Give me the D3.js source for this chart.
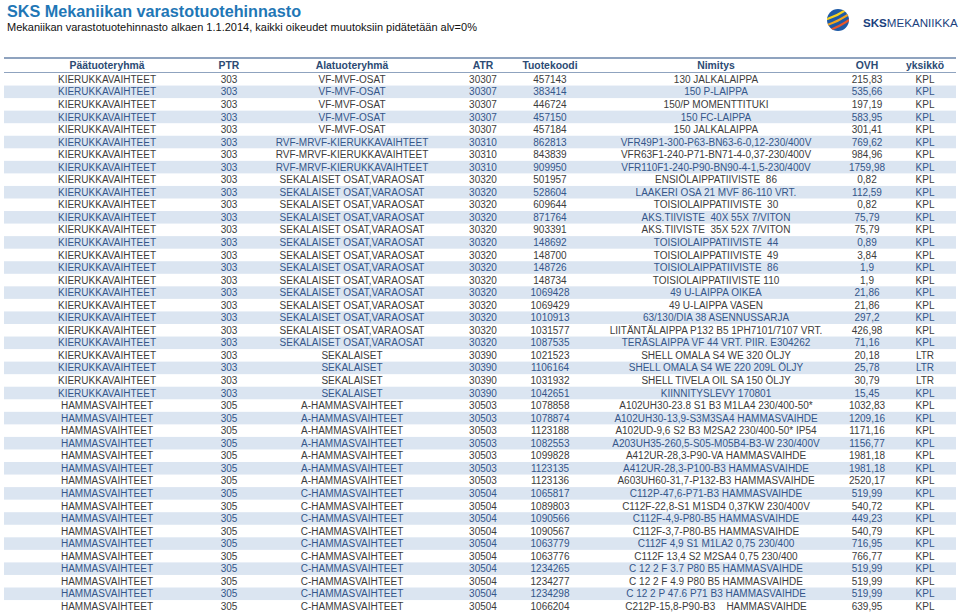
<!DOCTYPE html>
<html>
<head>
<meta charset="utf-8">
<script src="https://cdn.jsdelivr.net/npm/d3@7"></script>
<style>
body { margin: 0; background: #fff; }
text { font-family: "Liberation Sans", Arial, sans-serif; white-space: pre; }
</style>
</head>
<body>
<div id="figure"></div>
<script>
var w = 960;
var h = 614;

// table data, one array per column
var headers = ["Päätuoteryhmä", "PTR", "Alatuoteryhmä", "ATR", "Tuotekoodi", "Nimitys", "OVH", "yksikkö"];

var groups = [
	"KIERUKKAVAIHTEET","KIERUKKAVAIHTEET","KIERUKKAVAIHTEET","KIERUKKAVAIHTEET","KIERUKKAVAIHTEET",
	"KIERUKKAVAIHTEET","KIERUKKAVAIHTEET","KIERUKKAVAIHTEET","KIERUKKAVAIHTEET","KIERUKKAVAIHTEET",
	"KIERUKKAVAIHTEET","KIERUKKAVAIHTEET","KIERUKKAVAIHTEET","KIERUKKAVAIHTEET","KIERUKKAVAIHTEET",
	"KIERUKKAVAIHTEET","KIERUKKAVAIHTEET","KIERUKKAVAIHTEET","KIERUKKAVAIHTEET","KIERUKKAVAIHTEET",
	"KIERUKKAVAIHTEET","KIERUKKAVAIHTEET","KIERUKKAVAIHTEET","KIERUKKAVAIHTEET","KIERUKKAVAIHTEET",
	"KIERUKKAVAIHTEET","HAMMASVAIHTEET","HAMMASVAIHTEET","HAMMASVAIHTEET","HAMMASVAIHTEET",
	"HAMMASVAIHTEET","HAMMASVAIHTEET","HAMMASVAIHTEET","HAMMASVAIHTEET","HAMMASVAIHTEET",
	"HAMMASVAIHTEET","HAMMASVAIHTEET","HAMMASVAIHTEET","HAMMASVAIHTEET","HAMMASVAIHTEET",
	"HAMMASVAIHTEET","HAMMASVAIHTEET","HAMMASVAIHTEET"
];

var ptr = [
	303,303,303,303,303,303,303,303,303,303,303,303,303,303,303,303,303,303,303,303,303,303,303,303,303,303,
	305,305,305,305,305,305,305,305,305,305,305,305,305,305,305,305,305
];

var subgroups = [
	"VF-MVF-OSAT","VF-MVF-OSAT","VF-MVF-OSAT","VF-MVF-OSAT","VF-MVF-OSAT",
	"RVF-MRVF-KIERUKKAVAIHTEET","RVF-MRVF-KIERUKKAVAIHTEET","RVF-MRVF-KIERUKKAVAIHTEET",
	"SEKALAISET OSAT,VARAOSAT","SEKALAISET OSAT,VARAOSAT","SEKALAISET OSAT,VARAOSAT","SEKALAISET OSAT,VARAOSAT",
	"SEKALAISET OSAT,VARAOSAT","SEKALAISET OSAT,VARAOSAT","SEKALAISET OSAT,VARAOSAT","SEKALAISET OSAT,VARAOSAT",
	"SEKALAISET OSAT,VARAOSAT","SEKALAISET OSAT,VARAOSAT","SEKALAISET OSAT,VARAOSAT","SEKALAISET OSAT,VARAOSAT",
	"SEKALAISET OSAT,VARAOSAT","SEKALAISET OSAT,VARAOSAT",
	"SEKALAISET","SEKALAISET","SEKALAISET","SEKALAISET",
	"A-HAMMASVAIHTEET","A-HAMMASVAIHTEET","A-HAMMASVAIHTEET","A-HAMMASVAIHTEET","A-HAMMASVAIHTEET",
	"A-HAMMASVAIHTEET","A-HAMMASVAIHTEET",
	"C-HAMMASVAIHTEET","C-HAMMASVAIHTEET","C-HAMMASVAIHTEET","C-HAMMASVAIHTEET","C-HAMMASVAIHTEET",
	"C-HAMMASVAIHTEET","C-HAMMASVAIHTEET","C-HAMMASVAIHTEET","C-HAMMASVAIHTEET","C-HAMMASVAIHTEET"
];

var atr = [
	30307,30307,30307,30307,30307,30310,30310,30310,
	30320,30320,30320,30320,30320,30320,30320,30320,30320,30320,30320,30320,30320,30320,
	30390,30390,30390,30390,
	30503,30503,30503,30503,30503,30503,30503,
	30504,30504,30504,30504,30504,30504,30504,30504,30504,30504
];

var codes = [
	457143,383414,446724,457150,457184,862813,843839,909950,501957,528604,609644,871764,903391,
	148692,148700,148726,148734,1069428,1069429,1010913,1031577,1087535,1021523,1106164,1031932,
	1042651,1078858,1078874,1123188,1082553,1099828,1123135,1123136,1065817,1089803,1090566,
	1090567,1063779,1063776,1234265,1234277,1234298,1066204
];

var names = [
	"130 JALKALAIPPA",
	"150 P-LAIPPA",
	"150/P MOMENTTITUKI",
	"150 FC-LAIPPA",
	"150 JALKALAIPPA",
	"VFR49P1-300-P63-BN63-6-0,12-230/400V",
	"VFR63F1-240-P71-BN71-4-0,37-230/400V",
	"VFR110F1-240-P90-BN90-4-1,5-230/400V",
	"ENSIÖLAIPPATIIVISTE  86",
	"LAAKERI OSA 21 MVF 86-110 VRT.",
	"TOISIOLAIPPATIIVISTE  30",
	"AKS.TIIVISTE  40X 55X 7/VITON",
	"AKS.TIIVISTE  35X 52X 7/VITON",
	"TOISIOLAIPPATIIVISTE  44",
	"TOISIOLAIPPATIIVISTE  49",
	"TOISIOLAIPPATIIVISTE  86",
	"TOISIOLAIPPATIIVISTE 110",
	"49 U-LAIPPA OIKEA",
	"49 U-LAIPPA VASEN",
	"63/130/DIA 38 ASENNUSSARJA",
	"LIITÄNTÄLAIPPA P132 B5 1PH7101/7107 VRT.",
	"TERÄSLAIPPA VF 44 VRT. PIIR. E304262",
	"SHELL OMALA S4 WE 320 ÖLJY",
	"SHELL OMALA S4 WE 220 209L ÖLJY",
	"SHELL TIVELA OIL SA 150 ÖLJY",
	"KIINNITYSLEVY 170801",
	"A102UH30-23.8 S1 B3 M1LA4 230/400-50*",
	"A102UH30-13,9-S3M3SA4 HAMMASVAIHDE",
	"A102UD-9,6 S2 B3 M2SA2 230/400-50* IP54",
	"A203UH35-260,5-S05-M05B4-B3-W 230/400V",
	"A412UR-28,3-P90-VA HAMMASVAIHDE",
	"A412UR-28,3-P100-B3 HAMMASVAIHDE",
	"A603UH60-31,7-P132-B3 HAMMASVAIHDE",
	"C112P-47,6-P71-B3 HAMMASVAIHDE",
	"C112F-22,8-S1 M1SD4 0,37KW 230/400V",
	"C112F-4,9-P80-B5 HAMMASVAIHDE",
	"C112F-3,7-P80-B5 HAMMASVAIHDE",
	"C112F 4,9 S1 M1LA2 0,75 230/400",
	"C112F 13,4 S2 M2SA4 0,75 230/400",
	"C 12 2 F 3.7 P80 B5 HAMMASVAIHDE",
	"C 12 2 F 4.9 P80 B5 HAMMASVAIHDE",
	"C 12 2 P 47.6 P71 B3 HAMMASVAIHDE",
	"C212P-15,8-P90-B3    HAMMASVAIHDE"
];

var prices = [
	215.83,535.66,197.19,583.95,301.41,769.62,984.96,1759.98,0.82,112.59,0.82,75.79,75.79,
	0.89,3.84,1.9,1.9,21.86,21.86,297.2,426.98,71.16,20.18,25.78,30.79,15.45,1032.83,1209.16,
	1171.16,1156.77,1981.18,1981.18,2520.17,519.99,540.72,449.23,540.79,716.95,766.77,519.99,
	519.99,519.99,639.95
];

var units = [
	"KPL","KPL","KPL","KPL","KPL","KPL","KPL","KPL","KPL","KPL","KPL","KPL","KPL","KPL","KPL",
	"KPL","KPL","KPL","KPL","KPL","KPL","KPL","LTR","LTR","LTR","KPL","KPL","KPL","KPL","KPL",
	"KPL","KPL","KPL","KPL","KPL","KPL","KPL","KPL","KPL","KPL","KPL","KPL","KPL"
];

var rows = codes.map(function(d, i){
	return [groups[i], ptr[i], subgroups[i], atr[i], codes[i], names[i],
		String(prices[i]).replace('.', ','), units[i]];
});

var svg = d3.select('#figure')
	.append('svg')
	.attr('width', w)
	.attr('height', h);

//Title
svg.append('text')
	.attr('x', 7)
	.attr('y', 17)
	.attr('font-size', 16.2)
	.attr('font-weight', 'bold')
	.attr('fill', '#1f77b6')
	.text('SKS Mekaniikan varastotuotehinnasto');

svg.append('text')
	.attr('x', 7)
	.attr('y', 30.5)
	.attr('font-size', 11)
	.attr('fill', '#111')
	.text('Mekaniikan varastotuotehinnasto alkaen 1.1.2014, kaikki oikeudet muutoksiin pidätetään alv=0%');

//Logo
var logo = svg.append('g').attr('transform', 'translate(838,20)');
logo.append('clipPath').attr('id', 'logoClip')
	.append('circle').attr('r', 11);
logo.append('circle').attr('r', 11).attr('fill', '#1e5aa6');
var swoosh = logo.append('g').attr('clip-path', 'url(#logoClip)');
[[-6, '#f6d21e'], [0, '#f3a51d'], [6, '#e8562a']].forEach(function(s){
	swoosh.append('path')
		.attr('d', 'M-14,' + (s[0] + 6) + ' Q0,' + (s[0] + 2) + ' 14,' + (s[0] - 8))
		.attr('fill', 'none')
		.attr('stroke', s[1])
		.attr('stroke-width', 2.2);
});
var logoText = svg.append('text')
	.attr('x', 863)
	.attr('y', 27)
	.attr('font-size', 11.6)
	.attr('fill', '#1b3f7d');
logoText.append('tspan').attr('font-weight', 'bold').text('SKS');
logoText.append('tspan').text('MEKANIIKKA');

//Scales
var xScale = d3.scaleOrdinal()
	.domain(d3.range(headers.length))
	.range([107, 229, 352, 483, 550, 716, 867, 925]);

var yScale = d3.scaleBand()
	.domain(d3.range(rows.length))
	.range([73, 612.6]);

//Header
svg.append('line')
	.attr('x1', 4).attr('x2', 956)
	.attr('y1', 58).attr('y2', 58)
	.attr('stroke', '#8fa3bf')
	.attr('stroke-width', 2);

svg.append('line')
	.attr('x1', 4).attr('x2', 956)
	.attr('y1', 72.5).attr('y2', 72.5)
	.attr('stroke', '#8fa3bf')
	.attr('stroke-width', 1);

svg.append('g')
	.selectAll('text')
	.data(headers)
	.enter()
	.append('text')
	.attr('x', function(d, i){ return xScale(i); })
	.attr('y', 69)
	.attr('text-anchor', 'middle')
	.attr('font-size', 10.4)
	.attr('font-weight', 'bold')
	.attr('fill', '#2c4b74')
	.text(function(d){ return d; });

//Rows
var rowG = svg.append('g')
	.selectAll('g')
	.data(rows)
	.enter()
	.append('g')
	.attr('transform', function(d, i){ return 'translate(0,' + yScale(i) + ')'; });

rowG.filter(function(d, i){ return i % 2 === 1; })
	.append('rect')
	.attr('x', 4)
	.attr('width', 952)
	.attr('height', yScale.bandwidth())
	.attr('fill', '#dbe5f1');

rowG.selectAll('text')
	.data(function(d, i){
		return d.map(function(v){ return {v: v, stripe: i % 2 === 1}; });
	})
	.enter()
	.append('text')
	.attr('x', function(d, j){ return xScale(j); })
	.attr('y', yScale.bandwidth() / 2 + 3.6)
	.attr('text-anchor', 'middle')
	.attr('font-size', 10)
	.attr('fill', function(d){ return d.stripe ? '#34568a' : '#3c3c3c'; })
	.text(function(d){ return d.v; });
</script>
</body>
</html>
